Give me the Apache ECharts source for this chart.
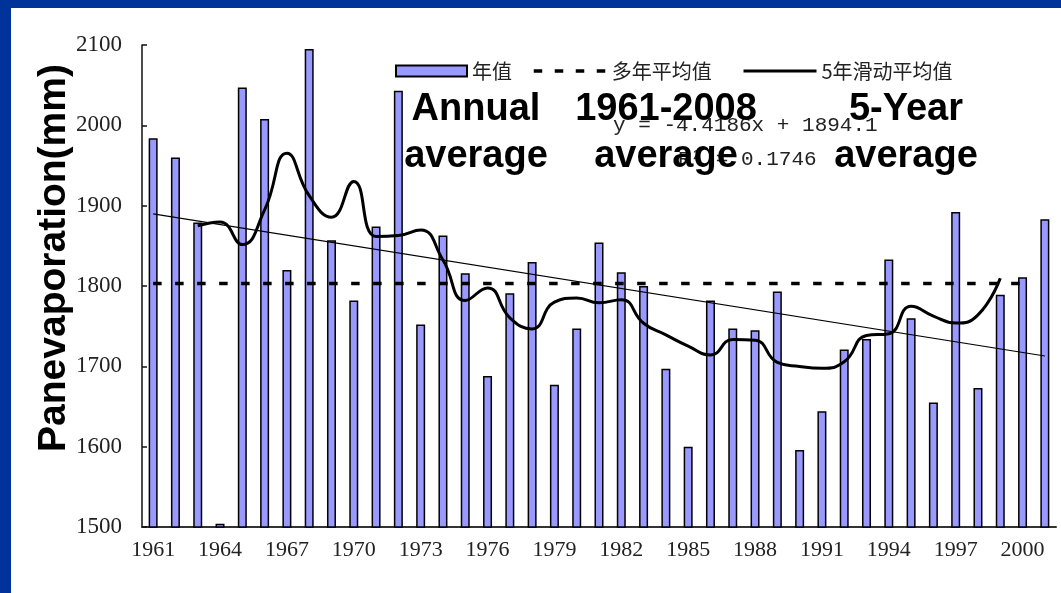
<!DOCTYPE html>
<html>
<head>
<meta charset="utf-8">
<script src="https://cdn.jsdelivr.net/npm/echarts@6/dist/echarts.min.js"></script>
<style>
  html, body { margin: 0; padding: 0; background: #ffffff; }
  #chart { width: 1061px; height: 593px; }
</style>
</head>
<body>
<div id="chart"></div>
<script>
// Annual pan evaporation (mm), 1961-2001
const years = ['1961','1962','1963','1964','1965','1966','1967','1968','1969','1970',
  '1971','1972','1973','1974','1975','1976','1977','1978','1979','1980',
  '1981','1982','1983','1984','1985','1986','1987','1988','1989','1990',
  '1991','1992','1993','1994','1995','1996','1997','1998','1999','2000','2001'];

const annualValues = [1984, 1960, 1879, 1504, 2047, 2008, 1820, 2095, 1857, 1782,
  1874, 2043, 1752, 1863, 1816, 1688, 1791, 1830, 1677, 1747,
  1854, 1817, 1800, 1697, 1600, 1782, 1747, 1745, 1793, 1596,
  1644, 1721, 1734, 1833, 1760, 1655, 1892, 1673, 1789, 1811, 1883];

// centred 5-year moving average (no value for the first and last two years)
const movingAvg = [null, null, 1874.8, 1879.6, 1851.6, 1894.8, 1965.4, 1912.4, 1885.6, 1930.2,
  1861.6, 1862.8, 1869.6, 1832.4, 1782.0, 1797.6, 1760.4, 1746.6, 1779.8, 1785.0,
  1779.0, 1783.0, 1753.6, 1739.2, 1725.2, 1714.2, 1733.4, 1732.6, 1705.0, 1699.8,
  1697.6, 1705.6, 1738.4, 1740.6, 1774.8, 1762.6, 1753.8, 1764.0, 1809.6, null, null];

// long-term mean, drawn from 1961 to 2000
const longTermMean = 1803;
const meanLine = years.map((y, i) => (i < years.length - 1 ? longTermMean : null));

// linear trend y = -4.4186x + 1894.1, x = 1 for 1961
const trendSlope = -4.4186;
const trendIntercept = 1894.1;
const trendLine = years.map((y, i) =>
  (i === 0 || i === years.length - 1) ? +(trendSlope * (i + 1) + trendIntercept).toFixed(1) : null);

const yTicks = { min: 1500, max: 2100, step: 100 };

const chart = echarts.init(document.getElementById('chart'), null, { renderer: 'canvas' });

const legendText = { fontFamily: 'Noto Sans CJK SC', fontSize: 20, color: '#222' };
// line legends show only the stroke, no marker
const hiddenMarker = { color: 'rgba(0,0,0,0)', borderWidth: 0, opacity: 0 };

chart.setOption({
  animation: false,
  backgroundColor: '#ffffff',
  grid: { left: 142, top: 45, right: 5, bottom: 66, containLabel: false },
  legend: [
    { data: ['年值'], left: 390, top: 56, itemWidth: 71, itemHeight: 11, icon: 'rect',
      itemGap: 0, textStyle: legendText },
    { data: ['多年平均值'], left: 527, top: 56, itemWidth: 73, itemHeight: 11,
      itemGap: 0, itemStyle: hiddenMarker,
      lineStyle: { color: '#000', width: 3.5, type: [8.5, 12.5] }, textStyle: legendText },
    { data: ['5年滑动平均值'], left: 737, top: 56, itemWidth: 73, itemHeight: 11,
      itemGap: 0, itemStyle: hiddenMarker,
      lineStyle: { color: '#000', width: 3 }, textStyle: legendText }
  ],
  xAxis: {
    type: 'category',
    data: years,
    boundaryGap: true,
    axisLine: { lineStyle: { color: '#333', width: 2 } },
    axisTick: { inside: true, length: 5, interval: 0, lineStyle: { color: '#333', width: 1.5 } },
    axisLabel: { interval: 2, margin: 12, fontFamily: 'Liberation Serif', fontSize: 22, color: '#222' },
    splitLine: { show: false }
  },
  yAxis: {
    type: 'value',
    min: yTicks.min,
    max: yTicks.max,
    interval: yTicks.step,
    axisLine: { show: true, lineStyle: { color: '#111', width: 1.5 } },
    axisTick: { show: true, inside: true, length: 5, lineStyle: { color: '#111', width: 1.5 } },
    axisLabel: { margin: 20, fontFamily: 'Liberation Serif', fontSize: 23, color: '#222',
      formatter: (v) => String(v) },
    splitLine: { show: false }
  },
  series: [
    {
      name: '年值',
      type: 'bar',
      data: annualValues,
      barWidth: 9,
      itemStyle: { color: '#9999FF', borderColor: '#000', borderWidth: 1.5 },
      z: 1
    },
    {
      name: '多年平均值',
      type: 'line',
      data: meanLine,
      symbol: 'none',
      itemStyle: { color: '#000' },
      lineStyle: { color: '#000', width: 3.5, type: [8.5, 13.5] },
      z: 3
    },
    {
      name: '5年滑动平均值',
      type: 'line',
      data: movingAvg,
      symbol: 'none',
      smooth: 0.5,
      itemStyle: { color: '#000' },
      lineStyle: { color: '#000', width: 3 },
      z: 4
    },
    {
      name: 'trend',
      type: 'line',
      data: trendLine,
      connectNulls: true,
      symbol: 'none',
      itemStyle: { color: '#000' },
      lineStyle: { color: '#000', width: 1.2 },
      z: 3
    }
  ],
  graphic: [
    // slide frame
    { type: 'rect', left: 0, top: 0, shape: { width: 1061, height: 8 }, style: { fill: '#003399' }, z: 10 },
    { type: 'rect', left: 0, top: 0, shape: { width: 11, height: 593 }, style: { fill: '#003399' }, z: 10 },
    // axis title
    {
      type: 'text', x: 54, y: 258, rotation: Math.PI / 2,
      style: { text: 'Panevaporation(mm)', font: 'bold 39px "Liberation Sans"', fill: '#000',
        textAlign: 'center', textVerticalAlign: 'middle' },
      z: 10
    },
    // regression equation
    {
      type: 'text', x: 613, y: 125,
      style: { text: 'y = -4.4186x + 1894.1', font: '21px "Liberation Mono"', fill: '#222',
        textAlign: 'left', textVerticalAlign: 'middle' },
      z: 9
    },
    {
      type: 'text', x: 678, y: 159,
      style: { text: 'R² = 0.1746', font: '21px "Liberation Mono"', fill: '#222',
        textAlign: 'left', textVerticalAlign: 'middle' },
      z: 9
    },
    // series captions
    {
      type: 'text', x: 476, y: 86,
      style: { text: 'Annual\naverage', font: 'bold 38px "Liberation Sans"', lineHeight: 47,
        fill: '#000', textAlign: 'center', textVerticalAlign: 'top' },
      z: 11
    },
    {
      type: 'text', x: 666, y: 86,
      style: { text: '1961-2008\naverage', font: 'bold 38px "Liberation Sans"', lineHeight: 47,
        fill: '#000', textAlign: 'center', textVerticalAlign: 'top' },
      z: 11
    },
    {
      type: 'text', x: 906, y: 86,
      style: { text: '5-Year\naverage', font: 'bold 38px "Liberation Sans"', lineHeight: 47,
        fill: '#000', textAlign: 'center', textVerticalAlign: 'top' },
      z: 11
    }
  ]
});
</script>
</body>
</html>
